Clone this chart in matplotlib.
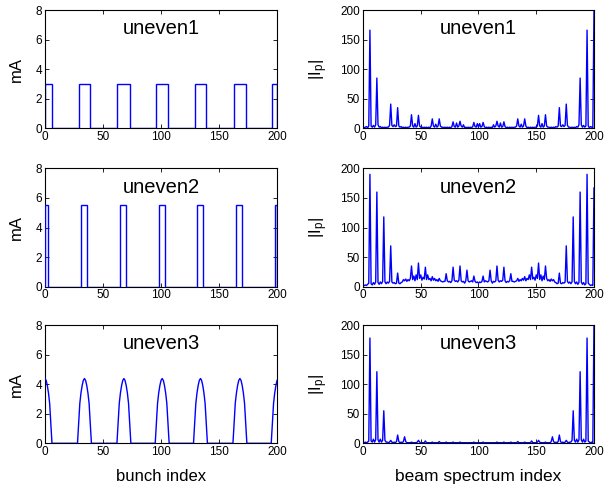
import numpy as np
import matplotlib
matplotlib.use('Agg')
import matplotlib.pyplot as plt

plt.rcParams['font.family'] = ['Liberation Sans', 'DejaVu Sans']
plt.rcParams['mathtext.fontset'] = 'custom'
plt.rcParams['mathtext.rm'] = 'Liberation Sans'
plt.rcParams['mathtext.it'] = 'Liberation Sans:italic'

# bunch patterns (train edges in bunch index, level in mA)
edges1 = [0, 6, 29, 39, 62, 73, 96, 106, 129, 139, 163, 173, 196, 200]
levels1 = [3, 0, 3, 0, 3, 0, 3, 0, 3, 0, 3, 0, 3]
edges2 = [0, 3, 31, 36, 64.5, 69.5, 98, 103, 131, 136, 165, 170, 198, 200]
levels2 = [5.55, 0, 5.55, 0, 5.55, 0, 5.55, 0, 5.55, 0, 5.55, 0, 5.55]
# uneven3: rounded trains, per-bunch profile around each train centre
arc_profile = [1.4, 2.7, 3.4, 3.9, 4.25, 4.38, 4.25, 3.9, 3.4, 2.7, 1.4]
arc_centres = [0, 34, 68, 101, 134, 168, 201]

# beam spectra |I_p|, index 1..200
spec1 = [1, 2, 3, 1, 4, 166, 4, 2, 5, 2,
         6, 85, 6, 2, 3, 1, 2, 1, 2, 1,
         2, 2, 5, 41, 5, 3, 6, 3, 4, 35,
         4, 2, 3, 1, 2, 1, 2, 1, 2, 2,
         4, 23, 4, 2, 8, 2, 4, 22, 4, 2,
         2, 1, 2, 1, 2, 1, 2, 1, 4, 16,
         4, 2, 7, 2, 4, 16, 4, 2, 2, 1,
         2, 1, 2, 1, 2, 1, 3, 11, 3, 2,
         9, 2, 4, 12, 4, 2, 6, 1, 2, 1,
         2, 1, 2, 1, 3, 10, 3, 2, 8, 2,
         8, 2, 3, 10, 3, 1, 2, 1, 2, 1,
         2, 1, 6, 2, 4, 12, 4, 2, 9, 2,
         3, 11, 3, 1, 2, 1, 2, 1, 2, 1,
         2, 2, 4, 16, 4, 2, 7, 2, 4, 16,
         4, 1, 2, 1, 2, 1, 2, 1, 2, 2,
         4, 22, 4, 2, 8, 2, 4, 23, 4, 2,
         2, 1, 2, 1, 2, 1, 3, 2, 4, 35,
         4, 3, 6, 3, 5, 41, 5, 2, 2, 1,
         2, 1, 2, 1, 3, 2, 6, 85, 6, 2,
         5, 2, 4, 166, 4, 1, 3, 2, 1, 200]
spec2 = [2, 3, 2, 4, 6, 190, 5, 3, 7, 4,
         8, 160, 7, 4, 8, 5, 9, 118, 8, 5,
         8, 6, 9, 69, 8, 6, 7, 5, 6, 23,
         6, 5, 7, 8, 12, 10, 13, 9, 12, 10,
         14, 35, 12, 18, 10, 20, 12, 40, 14, 20,
         11, 16, 13, 33, 12, 20, 12, 14, 10, 17,
         11, 14, 10, 12, 9, 14, 10, 9, 8, 9,
         9, 22, 10, 8, 9, 7, 10, 33, 11, 9,
         10, 8, 11, 35, 10, 8, 9, 6, 10, 28,
         10, 8, 9, 10, 8, 18, 9, 7, 8, 6,
         8, 7, 9, 18, 8, 10, 9, 8, 10, 28,
         10, 6, 9, 8, 10, 35, 11, 8, 10, 9,
         11, 33, 10, 7, 9, 8, 10, 22, 9, 9,
         8, 9, 10, 14, 9, 12, 10, 14, 11, 17,
         10, 14, 12, 20, 12, 33, 13, 16, 11, 20,
         14, 40, 12, 20, 10, 18, 12, 35, 14, 10,
         12, 9, 13, 10, 12, 8, 7, 5, 6, 23,
         6, 5, 7, 6, 8, 69, 9, 6, 8, 5,
         8, 118, 9, 5, 8, 4, 7, 160, 8, 4,
         7, 3, 5, 190, 6, 4, 2, 3, 2, 167]
spec3 = [1, 2, 1, 2, 4, 178, 4, 2, 7, 2,
         6, 121, 6, 2, 7, 2, 5, 55, 5, 2,
         2, 1, 2, 5, 2, 1, 2, 1, 3, 14,
         3, 1, 2, 1, 3, 11, 3, 1, 1, 1,
         1, 2, 1, 1, 1, 1, 2, 5, 2, 1,
         1, 1, 1, 4, 1, 1, 1, 1, 1, 2,
         1, 1, 1, 1, 1, 3, 1, 1, 1, 1,
         1, 2, 1, 1, 1, 1, 1, 2, 1, 1,
         1, 1, 1, 2, 1, 1, 1, 1, 1, 1,
         1, 1, 1, 1, 1, 2, 1, 1, 1, 1,
         1, 1, 1, 2, 1, 1, 1, 1, 1, 1,
         1, 1, 1, 1, 1, 2, 1, 1, 1, 1,
         1, 2, 1, 1, 1, 1, 1, 2, 1, 1,
         1, 1, 1, 3, 1, 1, 1, 1, 1, 2,
         1, 1, 1, 1, 1, 4, 1, 1, 1, 1,
         2, 5, 2, 1, 1, 1, 1, 2, 1, 1,
         1, 1, 3, 11, 3, 1, 2, 1, 3, 14,
         3, 1, 2, 1, 2, 5, 2, 1, 2, 2,
         5, 55, 5, 2, 7, 2, 6, 121, 6, 2,
         7, 2, 4, 178, 4, 2, 1, 2, 1, 205]

names = ['uneven1', 'uneven2', 'uneven3']

bunch = np.arange(0, 201)
y3 = np.zeros(201)
for c in arc_centres:
    for k, v in zip(range(-5, 6), arc_profile):
        if 0 <= c + k <= 200:
            y3[c + k] = v

p_index = np.arange(1, 201)

fig = plt.figure(figsize=(6.05, 4.88), dpi=100)
lefts = [0.0744, 0.6]
bottoms = [0.737, 0.4125, 0.0916]
w, h = 0.3835, 0.2424

def style(ax, ymax, yticks):
    ax.set_xlim(0, 200)
    ax.set_ylim(0, ymax)
    ax.set_xticks([0, 50, 100, 150, 200])
    ax.set_yticks(yticks)
    ax.tick_params(direction='in', top=True, right=True, labelsize=8.5,
                   length=3, width=0.6, pad=2)
    for s in ax.spines.values():
        s.set_linewidth(0.8)

for i in range(3):
    # left column: bunch current
    ax = fig.add_axes([lefts[0], bottoms[i], w, h])
    if i == 0:
        ax.stairs(levels1, edges1, color='blue', lw=1.0)
    elif i == 1:
        ax.stairs(levels2, edges2, color='blue', lw=1.0, zorder=3)
    else:
        ax.plot(bunch, y3, color='blue', lw=1.0, zorder=3)
    style(ax, 8, [0, 2, 4, 6, 8])
    ax.text(0.5, 0.84, names[i], transform=ax.transAxes, ha='center',
            va='center', fontsize=14.5)
    ax.set_ylabel('mA', fontsize=12)
    ax.yaxis.set_label_coords(-0.09, 0.5)
    if i == 2:
        ax.set_xlabel('bunch index', fontsize=12)
        ax.xaxis.set_label_coords(0.5, -0.22)

    # right column: beam spectrum
    ax = fig.add_axes([lefts[1], bottoms[i], 0.3818, h])
    spec = [spec1, spec2, spec3][i]
    ax.plot(p_index, spec, color='blue', lw=1.0)
    style(ax, 200, [0, 50, 100, 150, 200])
    ax.text(0.5, 0.84, names[i], transform=ax.transAxes, ha='center',
            va='center', fontsize=14.5)
    ax.set_ylabel(r'$\mathregular{|I_p|}$', fontsize=12)
    ax.yaxis.set_label_coords(-0.145, 0.5)
    if i == 2:
        ax.set_xlabel('beam spectrum index', fontsize=12.5)
        ax.xaxis.set_label_coords(0.5, -0.22)

plt.savefig('out.png', dpi=100)
